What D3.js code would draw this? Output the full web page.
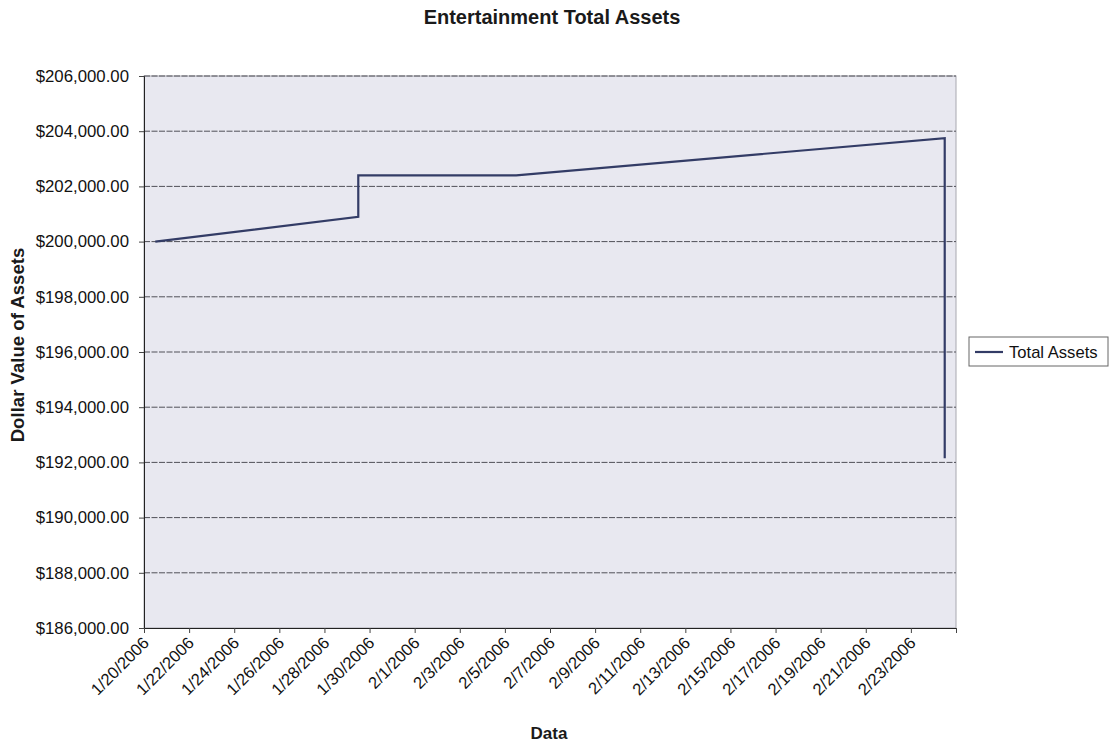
<!DOCTYPE html>
<html>
<head>
<meta charset="utf-8">
<script src="https://cdn.jsdelivr.net/npm/d3@7"></script>
<style>
  html, body { margin: 0; padding: 0; background: #ffffff; }
  svg { display: block; font-family: Arial, "Liberation Sans", sans-serif; }
</style>
</head>
<body>
<svg id="chart" width="1110" height="746"></svg>
<script>
// Series: entertainment total assets by date (same-day entries form steps)
const dates = ["2006-01-20", "2006-01-29", "2006-01-29", "2006-02-05", "2006-02-24", "2006-02-24"];
const totalAssets = [200000, 200900, 202400, 202400, 203750, 192150];

// Axis tick values and labels
const yTicks = [186000, 188000, 190000, 192000, 194000, 196000, 198000, 200000, 202000, 204000, 206000];
const xTickLabels = ["1/20/2006", "1/22/2006", "1/24/2006", "1/26/2006", "1/28/2006", "1/30/2006",
  "2/1/2006", "2/3/2006", "2/5/2006", "2/7/2006", "2/9/2006", "2/11/2006", "2/13/2006",
  "2/15/2006", "2/17/2006", "2/19/2006", "2/21/2006", "2/23/2006"];

const svg = d3.select("#chart");
const plot = { left: 144, right: 956, top: 76, bottom: 628 };

const parseISO = d3.utcParse("%Y-%m-%d");
const parseMDY = d3.utcParse("%m/%d/%Y");
const xStart = parseISO("2006-01-20");
const xEnd = parseISO("2006-02-25");

const x = d3.scaleUtc().domain([xStart, xEnd]).range([plot.left, plot.right]);
const y = d3.scaleLinear().domain([186000, 206000]).range([plot.bottom, plot.top]);

// each day occupies one slot; values sit at the middle of their day
const xMid = d => x(d3.utcHour.offset(d, 12));

const points = dates.map((d, i) => ({ date: parseISO(d), value: totalAssets[i] }));

// plot area background
svg.append("rect")
  .attr("x", plot.left).attr("y", plot.top)
  .attr("width", plot.right - plot.left).attr("height", plot.bottom - plot.top)
  .attr("fill", "#e8e8f0")
  .attr("stroke", "#a8a8b0").attr("stroke-width", 1);

// horizontal gridlines
svg.append("g")
  .selectAll("line")
  .data(yTicks.filter(v => v !== 186000))
  .join("line")
  .attr("x1", plot.left).attr("x2", plot.right)
  .attr("y1", d => y(d)).attr("y2", d => y(d))
  .attr("stroke", "#505058").attr("stroke-width", 1)
  .attr("stroke-dasharray", "6,1.5");

// y axis
const yAxis = d3.axisLeft(y)
  .tickValues(yTicks)
  .tickSize(5)
  .tickPadding(10)
  .tickFormat(v => "$" + d3.format(",.2f")(v));
const gy = svg.append("g").attr("transform", `translate(${plot.left},0)`).call(yAxis);
gy.select(".domain").attr("stroke", "#222");
gy.selectAll(".tick line").attr("stroke", "#444");
gy.selectAll(".tick text")
  .attr("font-size", 16.8).attr("fill", "#111")
  .attr("font-family", "Arial, 'Liberation Sans', sans-serif");

// x axis: tick marks every two days, labels rotated
const tickDates = xTickLabels.map(s => parseMDY(s)).concat([xEnd]);
const xAxis = d3.axisBottom(x)
  .tickValues(tickDates)
  .tickSize(5)
  .tickFormat("");
const gx = svg.append("g").attr("transform", `translate(0,${plot.bottom})`).call(xAxis);
gx.select(".domain").attr("stroke", "#222");
gx.selectAll(".tick line").attr("stroke", "#444");

svg.append("g")
  .selectAll("text")
  .data(xTickLabels)
  .join("text")
  .attr("transform", d => `translate(${x(parseMDY(d)) + 6},${plot.bottom + 16}) rotate(-45)`)
  .attr("text-anchor", "end")
  .attr("font-size", 16.6)
  .attr("fill", "#111")
  .text(d => d);

// series line
const line = d3.line()
  .x(d => xMid(d.date))
  .y(d => y(d.value));

svg.append("path")
  .datum(points)
  .attr("d", line)
  .attr("fill", "none")
  .attr("stroke", "#333c66")
  .attr("stroke-width", 2.2)
  .attr("stroke-linejoin", "miter");

// titles
svg.append("text")
  .attr("x", 552).attr("y", 24)
  .attr("text-anchor", "middle")
  .attr("font-size", 20).attr("font-weight", "bold").attr("fill", "#1a1a1a")
  .text("Entertainment Total Assets");

svg.append("text")
  .attr("transform", "translate(24,345) rotate(-90)")
  .attr("text-anchor", "middle")
  .attr("font-size", 18.6).attr("font-weight", "bold").attr("fill", "#1a1a1a")
  .text("Dollar Value of Assets");

svg.append("text")
  .attr("x", 549).attr("y", 739)
  .attr("text-anchor", "middle")
  .attr("font-size", 17).attr("font-weight", "bold").attr("fill", "#1a1a1a")
  .text("Data");

// legend
const legend = svg.append("g").attr("transform", "translate(969,337)");
legend.append("rect")
  .attr("width", 139).attr("height", 29)
  .attr("fill", "#ffffff").attr("stroke", "#666").attr("stroke-width", 1);
legend.append("line")
  .attr("x1", 6).attr("x2", 34).attr("y1", 15).attr("y2", 15)
  .attr("stroke", "#333c66").attr("stroke-width", 2.2);
legend.append("text")
  .attr("x", 40).attr("y", 21)
  .attr("font-size", 16.6).attr("fill", "#111")
  .text("Total Assets");
</script>
</body>
</html>
